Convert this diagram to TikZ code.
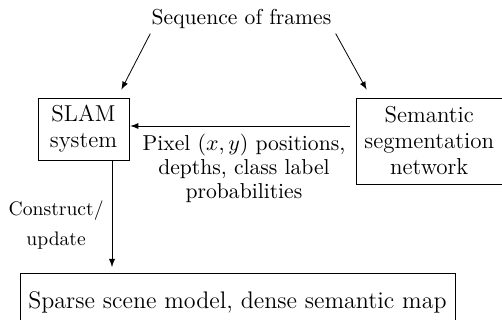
\documentclass[tikz,border=0pt]{standalone}
\usetikzlibrary{calc}
\begin{document}
\begin{tikzpicture}[x=0.5pt, y=0.5pt, >=latex,
        block/.style={draw, align=center, inner sep=0pt, font=\fontsize{11.5}{13}\selectfont},
        lbl/.style={align=center, font=\fontsize{10.8}{11.8}\selectfont}]
        \useasboundingbox (0,0) rectangle (502,320);
        \node[lbl, anchor=base, inner sep=2pt] (frames) at (241.5,295) {Sequence of frames};
        \node[block, minimum width=45.5pt, minimum height=31pt] (slam) at (83.5,191) {SLAM\\system};
        \node[block, minimum width=73.25pt, minimum height=43pt] (segnet) at (429.25,179) {Semantic\\segmentation\\network};
        \node[block, anchor=north, minimum width=217.5pt, inner ysep=9pt, text height=8.5pt, text depth=2.5pt, font=\fontsize{12}{14}\selectfont] (scene) at (237.5,47) {Sparse scene model, dense semantic map};
        \draw[->] ([xshift=1.5pt]frames.south west) -- ([shift={(-4pt,4pt)}]slam.north east);
        \draw[->] (frames.south east) -- ([shift={(5.5pt,4pt)}]segnet.north west);
        \draw[->, shorten >=3.5pt] ([shift={(-3pt,7.5pt)}]segnet.west) -- ([shift={(-3pt,7.5pt)}]segnet.west -| slam.east)
            node[lbl, midway, below, inner sep=4pt, xshift=3.75pt] (pixlbl) {Pixel $(x,y)$ positions,\\depths, class label\\probabilities};
        \draw[->, shorten >=3pt] ([xshift=14.25pt]slam.south) -- ([xshift=14.25pt]slam.south |- scene.north)
            node[midway, left, align=center, inner sep=4pt, yshift=-4pt, font=\fontsize{9.8}{15}\selectfont] (updlbl) {Construct/\\update};
\end{tikzpicture}
\end{document}
